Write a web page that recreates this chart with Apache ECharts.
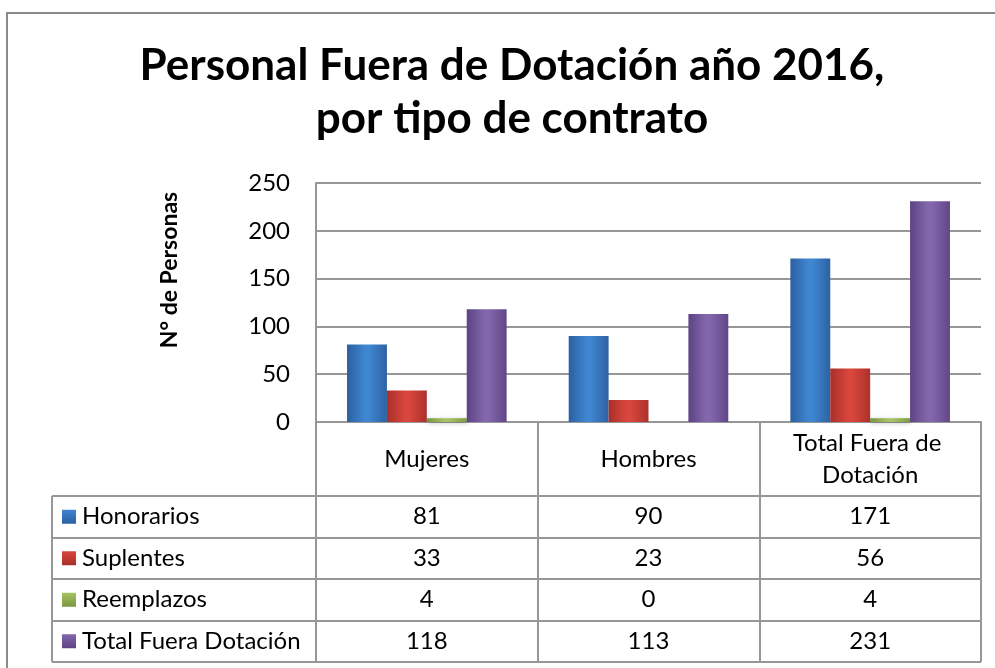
<!DOCTYPE html>
<html>
<head>
<meta charset="utf-8">
<title>Personal Fuera de Dotación año 2016</title>
<script src="https://cdn.jsdelivr.net/npm/echarts@6/dist/echarts.min.js"></script>
<style>
  html, body { margin: 0; padding: 0; background: #fff; }
  #chart { width: 995px; height: 668px; }
</style>
</head>
<body>
<div id="chart"></div>
<script>
// data
var categories = ['Mujeres', 'Hombres', 'Total Fuera de Dotación'];
var seriesNames = ['Honorarios', 'Suplentes', 'Reemplazos', 'Total Fuera Dotación'];
var honorarios = [81, 90, 171];
var suplentes = [33, 23, 56];
var reemplazos = [4, 0, 4];
var totalFuera = [118, 113, 231];
var yMin = 0, yMax = 250, yStep = 50;

var FONT = 'Lato, "Open Sans", sans-serif';
var LINE = '#979797';

// [edge, centre, edge] colours for the bars and table keys
var palette = [
  ['#2b5f9f', '#3f86d2', '#2d62a3'],
  ['#a7302a', '#d9463d', '#ab322b'],
  ['#7a9640', '#a6c463', '#7c9942'],
  ['#5d4483', '#8367ad', '#604686']
];

function barFill(c) {
  return new echarts.graphic.LinearGradient(0, 0, 1, 0, [
    { offset: 0, color: c[0] },
    { offset: 0.45, color: c[1] },
    { offset: 0.55, color: c[1] },
    { offset: 1, color: c[2] }
  ]);
}

var chart = echarts.init(document.getElementById('chart'));

var grid = { left: 316, right: 14, top: 183, bottom: 246 };
var headerH = 74;  // category row of the data table
var rowH = 41.5;   // one value row
var tableLeft = 52;

var values = [honorarios, suplentes, reemplazos, totalFuera];

var option = {
  animation: false,
  title: {
    text: 'Personal Fuera de Dotación año 2016,\npor tipo de contrato',
    left: 507,
    top: 34,
    textAlign: 'center',
    textStyle: {
      fontFamily: FONT,
      fontWeight: 'bold',
      fontSize: 44,
      lineHeight: 53,
      color: '#000'
    }
  },
  grid: grid,
  xAxis: {
    type: 'category',
    data: categories,
    boundaryGap: true,
    axisLine: { show: true, lineStyle: { color: LINE, width: 2 } },
    axisTick: {
      show: true,
      interval: 0,
      length: headerH + rowH * 4,
      lineStyle: { color: LINE, width: 2 }
    },
    axisLabel: {
      interval: 0,
      margin: 37,
      verticalAlign: 'middle',
      width: 200,
      overflow: 'break',
      lineHeight: 32,
      fontFamily: FONT,
      fontSize: 24,
      color: '#000'
    }
  },
  yAxis: {
    type: 'value',
    min: yMin,
    max: yMax,
    interval: yStep,
    axisLine: { show: true, lineStyle: { color: LINE, width: 2 } },
    axisTick: { show: false },
    splitLine: { lineStyle: { color: LINE, width: 2 } },
    axisLabel: {
      margin: 26,
      fontFamily: FONT,
      fontSize: 24,
      color: '#000'
    }
  },
  series: seriesNames.map(function(name, i) {
    return {
      name: name,
      type: 'bar',
      data: values[i],
      barGap: '0%',
      barCategoryGap: '28%',
      itemStyle: {
        color: barFill(palette[i]),
        shadowColor: 'rgba(0,0,0,0.25)',
        shadowBlur: 4,
        shadowOffsetX: 1,
        shadowOffsetY: 1
      }
    };
  })
};

chart.setOption(option);

// data table, axis title and frame, placed from the axes' own scales
function buildGraphics() {
  var axisY = chart.convertToPixel({ yAxisIndex: 0 }, yMin);
  var gridRight = chart.getWidth() - grid.right;
  var firstRow = axisY + headerH;
  var els = [];

  els.push({
    type: 'rect',
    shape: { x: 7, y: 13, width: 1000, height: 680 },
    style: { fill: null, stroke: '#8a8a8a', lineWidth: 2 },
    silent: true
  });

  els.push({
    type: 'text',
    x: 170,
    y: 270,
    rotation: Math.PI / 2,
    style: {
      text: 'N° de Personas',
      fontFamily: FONT,
      fontWeight: 'bold',
      fontSize: 23,
      fill: '#000',
      align: 'center',
      verticalAlign: 'middle'
    }
  });

  // horizontal rules of the table
  for (var k = 0; k <= seriesNames.length; k++) {
    var y = Math.round(firstRow + k * rowH);
    els.push({
      type: 'line',
      shape: { x1: tableLeft, y1: y, x2: gridRight, y2: y },
      style: { stroke: LINE, lineWidth: 2 },
      silent: true
    });
  }
  els.push({
    type: 'line',
    shape: { x1: tableLeft, y1: firstRow, x2: tableLeft, y2: Math.round(firstRow + seriesNames.length * rowH) },
    style: { stroke: LINE, lineWidth: 2 },
    silent: true
  });

  seriesNames.forEach(function(name, s) {
    var cy = firstRow + s * rowH + rowH / 2;
    var c = palette[s];
    els.push({
      type: 'rect',
      shape: { x: 62, y: cy - 7, width: 14, height: 14 },
      style: {
        fill: new echarts.graphic.LinearGradient(0, 0, 0, 1, [
          { offset: 0, color: c[1] },
          { offset: 1, color: c[0] }
        ])
      }
    });
    els.push({
      type: 'text',
      x: 82,
      y: cy,
      style: {
        text: name,
        fontFamily: FONT,
        fontSize: 24,
        fill: '#000',
        align: 'left',
        verticalAlign: 'middle'
      }
    });
    categories.forEach(function(cat, i) {
      els.push({
        type: 'text',
        x: chart.convertToPixel({ xAxisIndex: 0 }, cat),
        y: cy,
        style: {
          text: String(values[s][i]),
          fontFamily: FONT,
          fontSize: 24,
          fill: '#000',
          align: 'center',
          verticalAlign: 'middle'
        }
      });
    });
  });

  chart.setOption({ graphic: els });
}

buildGraphics();
</script>
</body>
</html>
